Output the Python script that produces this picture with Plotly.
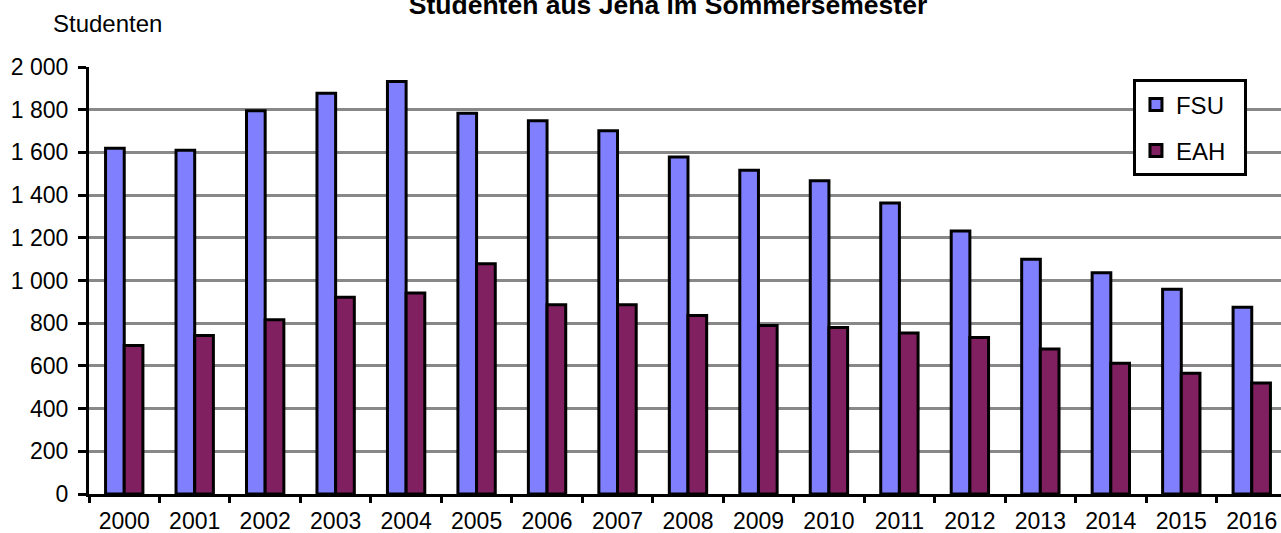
import plotly.graph_objects as go

years = [str(y) for y in range(2000, 2017)]
fsu = [1620, 1610, 1795, 1877, 1932, 1783, 1748, 1701, 1578, 1516, 1467, 1363, 1232, 1100, 1036, 959, 875]
eah = [696, 742, 816, 922, 941, 1079, 886, 886, 836, 789, 780, 754, 733, 679, 612, 565, 520]
series_names = ["FSU", "EAH"]
y_ticks = list(range(0, 2001, 200))

FONT = "Liberation Sans, Arial, sans-serif"
FS = 24
PAD = "\u00a0\u00a0"

fig = go.Figure()
fig.add_trace(go.Bar(x=years, y=fsu, name=series_names[0] + PAD, legendgroup="a",
                     marker=dict(color="#8080FF", line=dict(color="black", width=3))))
fig.add_trace(go.Bar(x=years, y=eah, name=series_names[1] + PAD, legendgroup="b",
                     marker=dict(color="#802060", line=dict(color="black", width=3))))

W, H = 1281, 533
L, T, B = 89.3, 66.7, 494.5
pw, ph = W - L, B - T

fig.update_layout(
    width=W, height=H,
    margin=dict(l=L, r=0, t=T, b=H - B, pad=0, autoexpand=False),
    paper_bgcolor="white", plot_bgcolor="white",
    font=dict(family=FONT, size=FS, color="black"),
    separators=", ",
    barmode="group", bargap=0.47, bargroupgap=0,
    title=dict(text="<b>Studenten aus Jena im Sommersemester</b>",
               font=dict(family=FONT, size=26.5, color="black"),
               x=668 / W, xanchor="center", xref="container",
               y=1 - 5 / H, yanchor="middle", yref="container"),
    legend=dict(x=(1133 - L) / pw, y=(B - 79) / ph, xanchor="left", yanchor="top",
                bgcolor="white", bordercolor="black", borderwidth=3,
                font=dict(family=FONT, size=FS, color="black"),
                tracegroupgap=12, traceorder="grouped"),
    xaxis=dict(type="category", range=[-0.5, 16.415], showgrid=False,
               showline=True, linecolor="black", linewidth=3,
               ticks="outside", tickson="boundaries", ticklen=6, tickwidth=3, tickcolor="black",
               tickfont=dict(family=FONT, size=23, color="black"), ticklabelstandoff=4),
    yaxis=dict(range=[0, 2000], tickvals=y_ticks, tickformat=",d",
               showgrid=True, gridcolor="#888888", gridwidth=2.5, zeroline=False,
               showline=True, linecolor="black", linewidth=3,
               ticks="outside", ticklen=8, tickwidth=3, tickcolor="black",
               tickfont=dict(family=FONT, size=23, color="black"), ticklabelstandoff=5),
    annotations=[dict(text="Studenten", xref="paper", yref="paper",
                      x=(51.7 - L) / pw, y=(B - 23) / ph, xanchor="left", yanchor="middle",
                      showarrow=False, font=dict(family=FONT, size=FS, color="black"))],
)

fig.write_html("out.html", config={"displayModeBar": False},
               post_script="document.body.style.margin='0';document.body.style.overflow='hidden';")
